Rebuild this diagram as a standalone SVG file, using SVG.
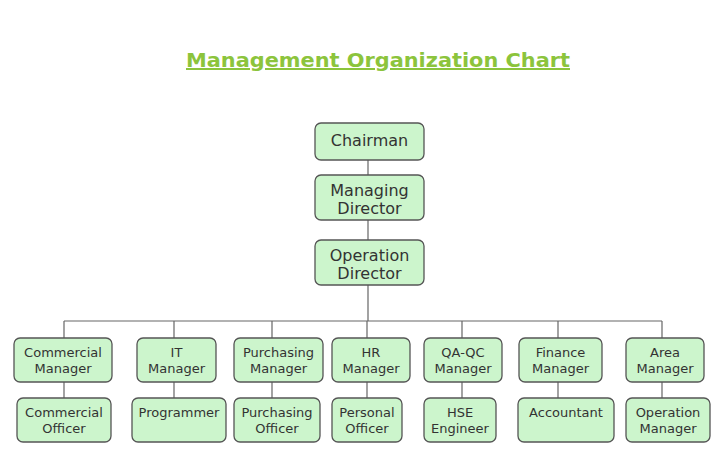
<svg xmlns="http://www.w3.org/2000/svg" width="728" height="469" viewBox="0 0 728 469">
<style>
.box{fill:#ccf5cc;stroke:#555;stroke-width:1.3}
.t{font-family:"DejaVu Sans",sans-serif;font-size:13px;fill:#333;text-anchor:middle}
.tb{font-family:"DejaVu Sans",sans-serif;font-size:16px;fill:#333;text-anchor:middle}
.ln{stroke:#666;stroke-width:1.2;fill:none}
</style>
<rect width="728" height="469" fill="#fff"/>
<text x="378" y="67" font-family="DejaVu Sans,sans-serif" font-size="20" font-weight="bold" fill="#8cc43c" text-anchor="middle" textLength="384" lengthAdjust="spacingAndGlyphs" text-decoration="underline">Management Organization Chart</text>
<g id="connectors">
<path class="ln" d="M368 160V175M368 220V240M368 285V321M64 321H662M64 321V338M174 321V338M272 321V338M367 321V338M462 321V338M558 321V338M662 321V338M64 382V398M174 382V398M272 382V398M367 382V398M462 382V398M558 382V398M662 382V398"/>
</g>
<g id="chairman"><rect class="box" x="315" y="123" width="109" height="37" rx="6"/><text class="tb" x="369.5" y="146">Chairman</text></g>
<g id="managing-director"><rect class="box" x="315" y="175" width="109" height="45" rx="6"/><text class="tb" x="369.5" y="196">Managing</text><text class="tb" x="369.5" y="214">Director</text></g>
<g id="operation-director"><rect class="box" x="315" y="240" width="109" height="45" rx="6"/><text class="tb" x="369.5" y="261">Operation</text><text class="tb" x="369.5" y="279">Director</text></g>
<g id="commercial-manager"><rect class="box" x="14" y="338" width="98" height="44" rx="6"/><text class="t" x="63" y="357">Commercial</text><text class="t" x="63" y="373">Manager</text></g>
<g id="it-manager"><rect class="box" x="137" y="338" width="79" height="44" rx="6"/><text class="t" x="176.5" y="357">IT</text><text class="t" x="176.5" y="373">Manager</text></g>
<g id="purchasing-manager"><rect class="box" x="234" y="338" width="89" height="44" rx="6"/><text class="t" x="278.5" y="357">Purchasing</text><text class="t" x="278.5" y="373">Manager</text></g>
<g id="hr-manager"><rect class="box" x="332" y="338" width="78" height="44" rx="6"/><text class="t" x="371" y="357">HR</text><text class="t" x="371" y="373">Manager</text></g>
<g id="qaqc-manager"><rect class="box" x="424" y="338" width="78" height="44" rx="6"/><text class="t" x="463" y="357">QA-QC</text><text class="t" x="463" y="373">Manager</text></g>
<g id="finance-manager"><rect class="box" x="519" y="338" width="83" height="44" rx="6"/><text class="t" x="560.5" y="357">Finance</text><text class="t" x="560.5" y="373">Manager</text></g>
<g id="area-manager"><rect class="box" x="626" y="338" width="78" height="44" rx="6"/><text class="t" x="665" y="357">Area</text><text class="t" x="665" y="373">Manager</text></g>
<g id="commercial-officer"><rect class="box" x="17" y="398" width="94" height="44" rx="6"/><text class="t" x="64" y="417">Commercial</text><text class="t" x="64" y="433">Officer</text></g>
<g id="programmer"><rect class="box" x="132" y="398" width="94" height="44" rx="6"/><text class="t" x="179" y="417">Programmer</text></g>
<g id="purchasing-officer"><rect class="box" x="234" y="398" width="86" height="44" rx="6"/><text class="t" x="277" y="417">Purchasing</text><text class="t" x="277" y="433">Officer</text></g>
<g id="personal-officer"><rect class="box" x="332" y="398" width="70" height="44" rx="6"/><text class="t" x="367" y="417">Personal</text><text class="t" x="367" y="433">Officer</text></g>
<g id="hse-engineer"><rect class="box" x="424" y="398" width="72" height="44" rx="6"/><text class="t" x="460" y="417">HSE</text><text class="t" x="460" y="433">Engineer</text></g>
<g id="accountant"><rect class="box" x="518" y="398" width="96" height="44" rx="6"/><text class="t" x="566" y="417">Accountant</text></g>
<g id="operation-manager"><rect class="box" x="626" y="398" width="84" height="44" rx="6"/><text class="t" x="668" y="417">Operation</text><text class="t" x="668" y="433">Manager</text></g>
</svg>
